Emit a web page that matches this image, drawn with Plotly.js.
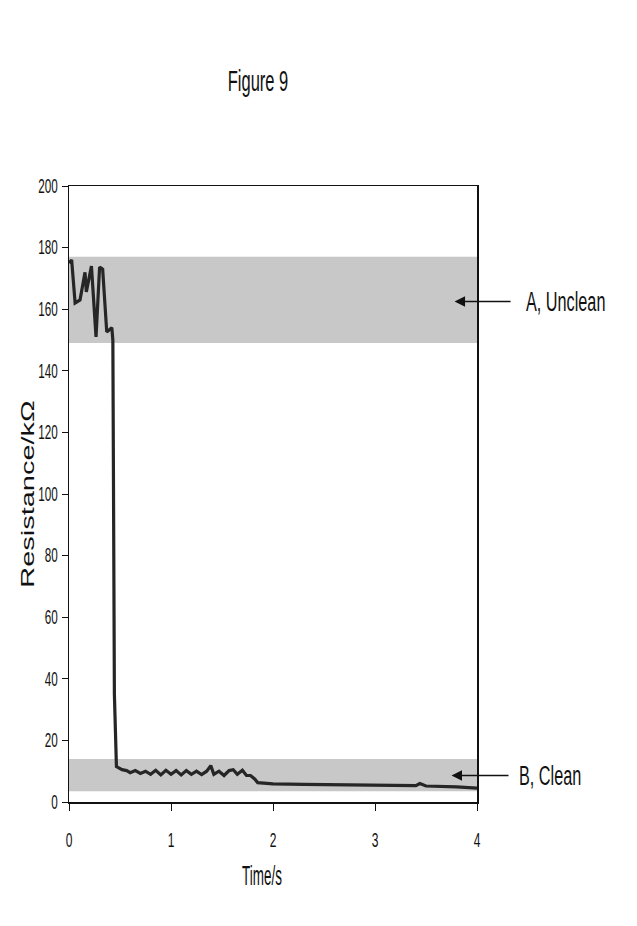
<!DOCTYPE html>
<html>
<head>
<meta charset="utf-8">
<script src="https://cdn.plot.ly/plotly-3.0.1.min.js"></script>
<style>html,body{margin:0;padding:0;background:#fff;}#chart{width:637px;height:926px;}</style>
</head>
<body>
<div id="chart"></div>
<script>
// Time (s) and resistance (kOhm)
const timeS = [0, 0.026, 0.06, 0.108, 0.157, 0.17, 0.22, 0.265, 0.30, 0.33, 0.37, 0.42, 0.43, 0.445, 0.465,
  0.52, 0.565, 0.60, 0.65, 0.70, 0.75, 0.80, 0.85, 0.90, 0.95, 1.00, 1.05, 1.10, 1.15, 1.20, 1.25, 1.30, 1.35, 1.39, 1.42,
  1.47, 1.52, 1.57, 1.61, 1.65, 1.70, 1.74, 1.78, 1.82, 1.85, 1.90, 2.00, 2.30, 2.66, 3.00, 3.40, 3.44, 3.50, 3.80, 4.00];
const resistance = [175, 176, 162, 163, 172, 165.6, 174, 151, 173.7, 173, 152.6, 154, 150, 35, 11.5,
  10.5, 10.2, 9.5, 10.2, 9.3, 10.0, 9.0, 10.3, 8.8, 10.3, 9.0, 10.2, 8.8, 10.2, 9.0, 10.0, 8.9, 10.0, 11.8, 9.0,
  10.0, 8.6, 10.2, 10.5, 9.0, 10.3, 8.6, 8.6, 7.5, 6.3, 6.2, 5.9, 5.7, 5.5, 5.4, 5.3, 6.0, 5.2, 4.9, 4.5];
const bandUnclean = [149, 177];
const bandClean = [3.5, 14];
const bandLabels = ["A, Unclean", "B, Clean"];
const arrowTargets = [[3.78, 162.5], [3.75, 8.6]];
const xTicks = [0, 1, 2, 3, 4];
const yTicks = [0, 20, 40, 60, 80, 100, 120, 140, 160, 180, 200];

const FONT = '"Liberation Sans", Arial, sans-serif';

const trace = {
  x: timeS, y: resistance, type: 'scatter', mode: 'lines',
  line: {color: '#262626', width: 3.2}, hoverinfo: 'skip'
};

const layout = {
  width: 637, height: 926,
  margin: {l: 69, r: 160, t: 186, b: 124},
  paper_bgcolor: '#fff', plot_bgcolor: '#fff',
  showlegend: false,
  title: {text: 'Figure 9', x: 258 / 637, xanchor: 'center', y: 1 - 81 / 926, yanchor: 'middle',
    font: {family: FONT, size: 30, color: '#111'}},
  xaxis: {
    range: [0, 4], tickvals: xTicks, ticktext: xTicks.map(String),
    showgrid: false, zeroline: false, showline: true, linecolor: '#111', linewidth: 1.5,
    mirror: true, ticks: 'outside', ticklen: 7, tickcolor: '#111',
    ticklabelstandoff: 13,
    tickfont: {family: FONT, size: 20, color: '#111'},
    title: {text: 'Time/s', font: {family: FONT, size: 28, color: '#111'}, standoff: 15}
  },
  yaxis: {
    range: [0, 200], tickvals: yTicks, ticktext: yTicks.map(String),
    showgrid: false, zeroline: false, showline: true, linecolor: '#111', linewidth: 1.5,
    mirror: true, ticks: 'outside', ticklen: 6, tickcolor: '#111',
    tickfont: {family: FONT, size: 19.5, color: '#111'},
    title: {text: 'Resistance/kΩ', font: {family: FONT, size: 29, color: '#111'}, standoff: 4}
  },
  shapes: [
    {type: 'rect', xref: 'x', yref: 'y', x0: 0, x1: 4, y0: bandUnclean[0], y1: bandUnclean[1],
      fillcolor: '#c8c8c8', line: {width: 0}, layer: 'below'},
    {type: 'rect', xref: 'x', yref: 'y', x0: 0, x1: 4, y0: bandClean[0], y1: bandClean[1],
      fillcolor: '#c8c8c8', line: {width: 0}, layer: 'below'}
  ],
  annotations: bandLabels.map((lab, i) => ({
    x: arrowTargets[i][0], y: arrowTargets[i][1], xref: 'x', yref: 'y',
    text: lab, showarrow: true, arrowhead: 2, arrowsize: 1.4, arrowwidth: 1.5, arrowcolor: '#111',
    ax: i === 0 ? 69 : 65, ay: 0, xanchor: 'left', startstandoff: i === 0 ? 13 : 8,
    font: {family: FONT, size: 28, color: '#111'}
  }))
};

// Horizontally condense the text (the original uses a narrow typeface)
function squeeze(sel, s, pivot, targetX) {
  document.querySelectorAll('#chart ' + sel).forEach(el => {
    const r = el.getBoundingClientRect();
    const px = pivot === 'right' ? r.right : pivot === 'left' ? r.left : (r.left + r.right) / 2;
    const m = el.parentNode.getScreenCTM();
    const p = (px - m.e) / m.a;
    const dx = targetX === undefined ? 0 : (targetX - px) / m.a;
    const prev = el.getAttribute('transform') || '';
    el.setAttribute('transform', `translate(${p + dx},0) scale(${s},1) translate(${-p},0) ${prev}`);
  });
}

Plotly.newPlot('chart', [trace], layout, {displayModeBar: false, staticPlot: true}).then(() => {
  squeeze('.g-gtitle text', 0.55, 'center');
  squeeze('.xtick text', 0.6, 'center');
  squeeze('.ytick text', 0.6, 'right');
  squeeze('.g-xtitle text', 0.48, 'center', 262);
  squeeze('.g-ytitle text', 0.62, 'center', 28);
  squeeze('.annotation-text', 0.58, 'left');
});
</script>
</body>
</html>
